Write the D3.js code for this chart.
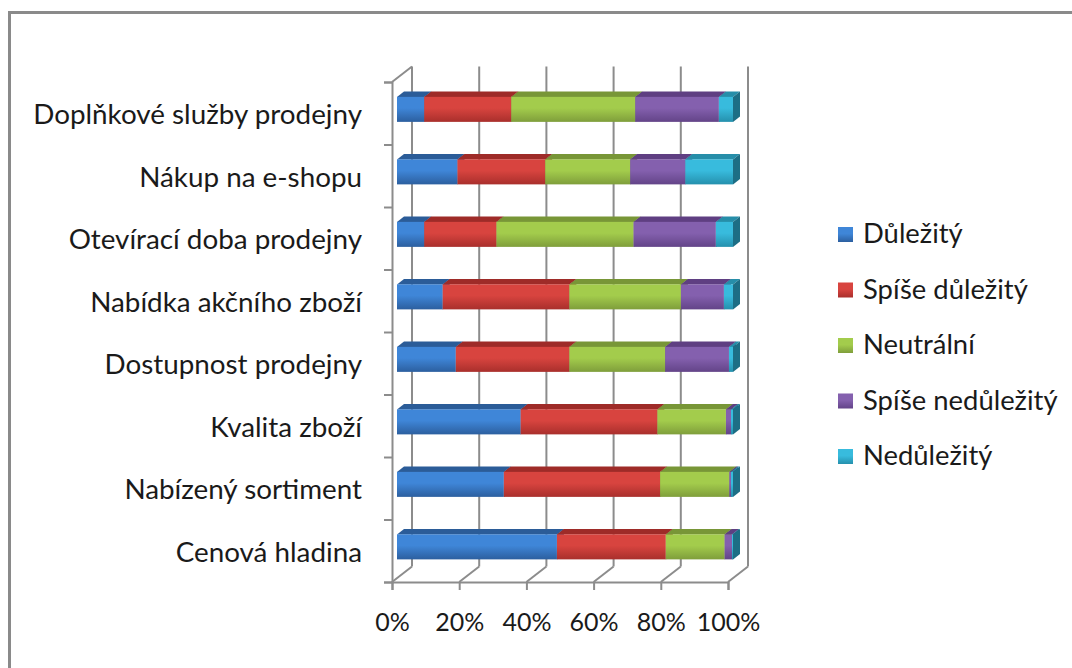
<!DOCTYPE html>
<html>
<head>
<meta charset="utf-8">
<script src="https://cdn.jsdelivr.net/npm/d3@7"></script>
<style>
  html, body { margin: 0; padding: 0; background: #ffffff; }
  svg { display: block; }
  text { font-family: Lato, "Open Sans", sans-serif; fill: #1a1a1a; }
</style>
</head>
<body>
<svg id="chart" width="1072" height="668"></svg>
<script>
// Categories from bottom to top
const categories = [
  "Cenová hladina",
  "Nabízený sortiment",
  "Kvalita zboží",
  "Dostupnost prodejny",
  "Nabídka akčního zboží",
  "Otevírací doba prodejny",
  "Nákup na e-shopu",
  "Doplňkové služby prodejny"
];
const seriesNames = ["Důležitý", "Spíše důležitý", "Neutrální", "Spíše nedůležitý", "Nedůležitý"];

// Share of answers (%) per category, same order as categories
const dulezity        = [47.6, 31.8, 36.8, 17.5, 13.6,  8.1, 18.0,  8.1];
const spiseDulezity   = [32.4, 46.5, 40.7, 33.8, 37.7, 21.5, 26.1, 25.9];
const neutralni       = [17.5, 20.6, 20.4, 28.5, 33.2, 40.8, 25.3, 36.9];
const spiseNedulezity = [ 2.2,  0.5,  1.5, 19.0, 12.8, 24.5, 16.4, 24.9];
const nedulezity      = [ 0.3,  0.6,  0.6,  1.2,  2.7,  5.1, 14.2,  4.2];

const xTicks = [0, 0.2, 0.4, 0.6, 0.8, 1];

// Face colours: front gradient (top, bottom), top face, side face
const palette = [
  { top: "#3f86d8", bottom: "#2c5f9f", lid: "#2b5c98", side: "#22497a" },
  { top: "#d8443f", bottom: "#a92f2c", lid: "#9e2b28", side: "#7e2220" },
  { top: "#a3cc4c", bottom: "#7f9e3b", lid: "#789637", side: "#5f772b" },
  { top: "#8460ae", bottom: "#634488", lid: "#5f3f82", side: "#4b3267" },
  { top: "#38bbdd", bottom: "#2590ad", lid: "#268ea9", side: "#1d6e85" }
];

const seriesValues = [dulezity, spiseDulezity, neutralni, spiseNedulezity, nedulezity];
const rows = categories.map((c, i) => {
  const r = { category: c };
  seriesNames.forEach((s, k) => { r[s] = seriesValues[k][i]; });
  return r;
});

const svg = d3.select("#chart");

// Outer chart frame
svg.append("rect")
  .attr("x", 9.5).attr("y", 12.5)
  .attr("width", 1100).attr("height", 700)
  .attr("fill", "#ffffff")
  .attr("stroke", "#8a8a8a").attr("stroke-width", 3);

// Front plane of the 3D box and depth vector
const x = d3.scaleLinear().domain([0, 1]).range([392, 728]);
const yLin = d3.scaleLinear().domain([0, categories.length]).range([582, 82]);
const y = d3.scaleBand().domain(categories).range([582, 82])
  .paddingInner(0.6).paddingOuter(0.3);
const DX = 20, DY = 15.5;
const d0 = 0.25, d1 = 0.6; // bar depth span inside the box

const gridColor = "#8c8c8c";
const defs = svg.append("defs");
palette.forEach((p, k) => {
  const g = defs.append("linearGradient")
    .attr("id", "grad" + k).attr("x1", 0).attr("y1", 0).attr("x2", 0).attr("y2", 1);
  g.append("stop").attr("offset", "0%").attr("stop-color", p.top);
  g.append("stop").attr("offset", "45%").attr("stop-color", p.top);
  g.append("stop").attr("offset", "100%").attr("stop-color", p.bottom);
});

// Back wall verticals
const grid = svg.append("g").attr("stroke", gridColor).attr("stroke-width", 2).attr("fill", "none");
grid.selectAll("line.back")
  .data(xTicks)
  .join("line")
  .attr("x1", d => x(d) + DX).attr("x2", d => x(d) + DX)
  .attr("y1", yLin(categories.length) - DY).attr("y2", yLin(0) - DY);

// Floor diagonals
grid.selectAll("line.floor")
  .data(xTicks)
  .join("line")
  .attr("x1", d => x(d)).attr("y1", yLin(0))
  .attr("x2", d => x(d) + DX).attr("y2", yLin(0) - DY);

// Side wall top edge
grid.append("line")
  .attr("x1", x(0)).attr("y1", yLin(categories.length))
  .attr("x2", x(0) + DX).attr("y2", yLin(categories.length) - DY);

// Category axis (front left edge) with ticks between bands
const yAxis = d3.axisLeft(yLin).tickValues(d3.range(categories.length + 1)).tickFormat("").tickSize(8);
const yAxisG = svg.append("g").attr("transform", `translate(${x(0)},0)`).call(yAxis);
yAxisG.selectAll("path, line").attr("stroke", gridColor).attr("stroke-width", 2);

// Value axis (front bottom edge)
const xAxis = d3.axisBottom(x).tickValues(xTicks).tickFormat(d3.format(".0%")).tickSize(8).tickPadding(23);
const xAxisG = svg.append("g").attr("transform", `translate(0,${yLin(0)})`).call(xAxis);
xAxisG.select(".domain").attr("stroke", gridColor).attr("stroke-width", 2);
xAxisG.selectAll(".tick line").attr("stroke", gridColor).attr("stroke-width", 2);
xAxisG.selectAll("text").attr("font-size", 25).attr("font-family", "Lato").attr("fill", "#1a1a1a");

// Category labels
svg.append("g").selectAll("text")
  .data(categories)
  .join("text")
  .attr("x", 362)
  .attr("y", d => y(d) + y.bandwidth() / 2 + 11)
  .attr("text-anchor", "end")
  .attr("font-size", 27.8)
  .text(d => d);

// 3D stacked bars
const stacked = d3.stack().keys(seriesNames).offset(d3.stackOffsetExpand)(rows);
const bars = svg.append("g");
rows.forEach((row, i) => {
  const yf = y(row.category) - d0 * DY;        // front face top
  const h = y.bandwidth();
  const ddx = (d1 - d0) * DX, ddy = (d1 - d0) * DY;
  stacked.forEach((layer, k) => {
    const seg = layer[i];
    if (seg[1] - seg[0] <= 0) return;
    const xa = x(seg[0]) + d0 * DX, xb = x(seg[1]) + d0 * DX;
    const p = palette[k];
    const g = bars.append("g");
    // top face
    g.append("path")
      .attr("d", `M${xa},${yf}L${xa + ddx},${yf - ddy}L${xb + ddx},${yf - ddy}L${xb},${yf}Z`)
      .attr("fill", p.lid);
    // right side face
    g.append("path")
      .attr("d", `M${xb},${yf}L${xb + ddx},${yf - ddy}L${xb + ddx},${yf + h - ddy}L${xb},${yf + h}Z`)
      .attr("fill", p.side);
    // front face
    g.append("rect")
      .attr("x", xa).attr("y", yf)
      .attr("width", xb - xa).attr("height", h)
      .attr("fill", `url(#grad${k})`);
  });
});

// Legend
const legend = svg.append("g").attr("transform", "translate(838,243)");
const item = legend.selectAll("g")
  .data(seriesNames)
  .join("g")
  .attr("transform", (d, k) => `translate(0,${k * 55.5})`);
item.append("rect")
  .attr("x", 0).attr("y", -16).attr("width", 15).attr("height", 15)
  .attr("fill", (d, k) => `url(#grad${k})`);
item.append("text")
  .attr("x", 25).attr("y", 0)
  .attr("font-size", 27.4)
  .text(d => d);
</script>
</body>
</html>
